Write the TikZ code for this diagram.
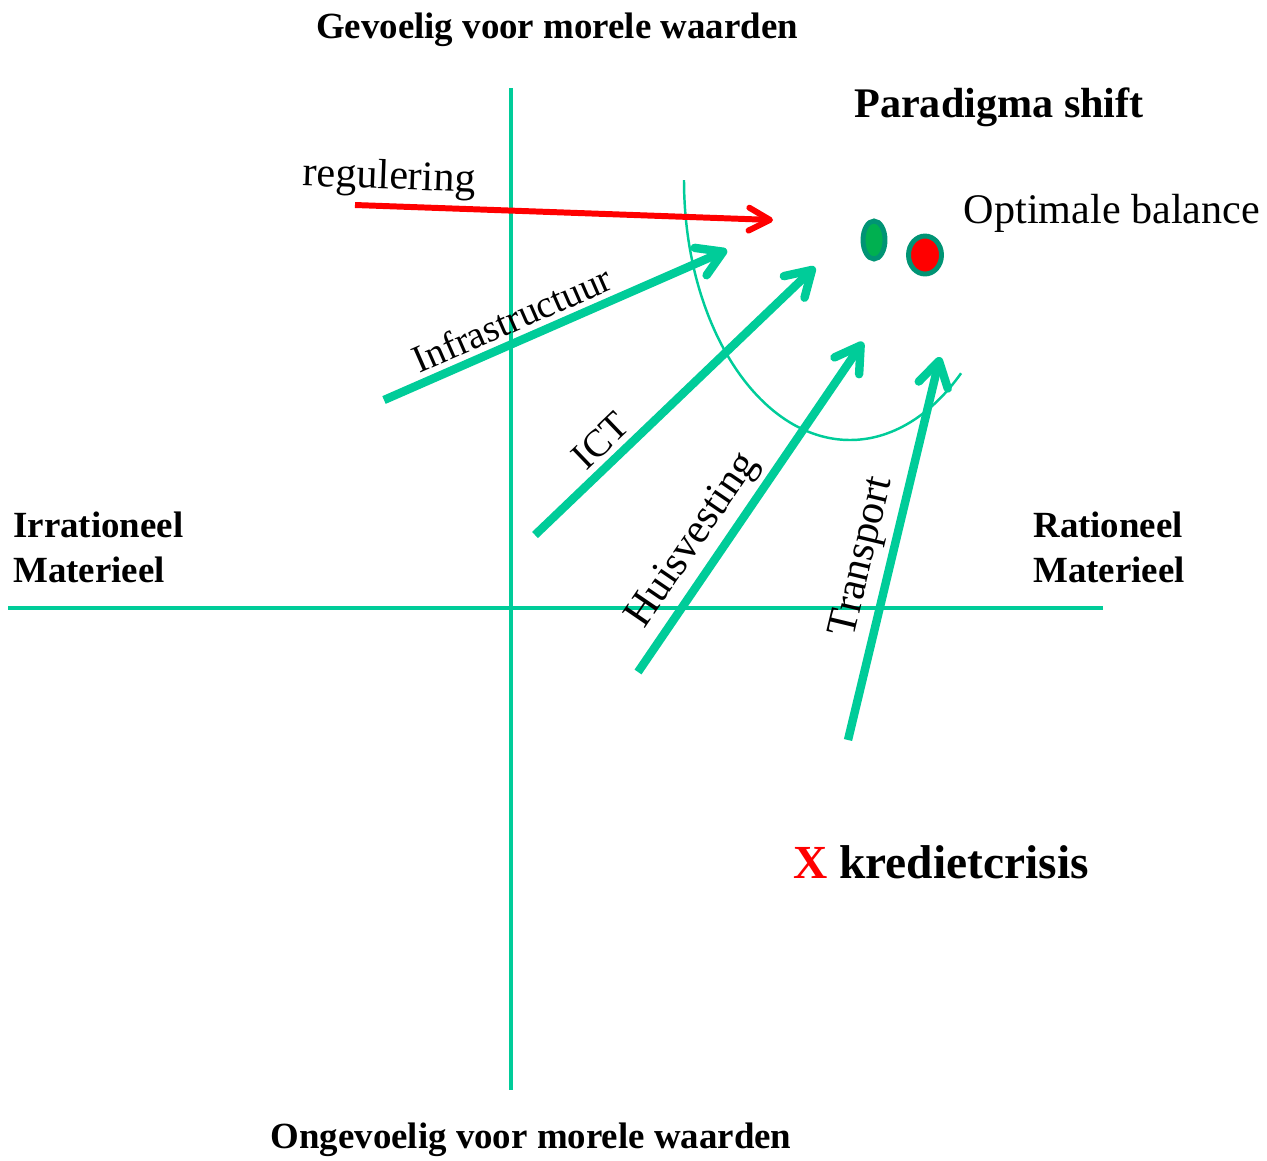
\documentclass[tikz,border=0pt]{standalone}
\usepackage{fontspec}
\setmainfont{Liberation Serif}
\usetikzlibrary{arrows.meta}

\definecolor{asgroen}{RGB}{0,204,153}
\definecolor{randgroen}{RGB}{0,148,116}
\definecolor{bolgroen}{RGB}{0,176,80}

\tikzset{
	as/.style={draw=asgroen, line width=2.8pt},
	pijl/.style={draw=asgroen, line width=4.8pt, -{Straight Barb[length=14pt,width=17pt,round]}},
	rodepijl/.style={draw=red, line width=3.4pt, -{Straight Barb[length=12pt,width=13pt,round]}},
	boog/.style={draw=asgroen, line width=1.4pt},
	kop/.style={font=\bfseries\fontsize{21}{25.5}\selectfont, align=left, inner sep=0pt},
	pijltekst/.style={font=\fontsize{22}{26}\selectfont, inner sep=3pt},
	groottekst/.style={pijltekst, font=\fontsize{24}{28}\selectfont},
	bol/.style={draw=randgroen, line width=2.8pt},
}

\begin{document}
\begin{tikzpicture}[x=0.02cm, y=-0.02cm]
	\useasboundingbox (0,0) rectangle (1267,1160);

	% assen
	\coordinate (boven) at (511,88);
	\coordinate (onder) at (511,1090);
	\coordinate (links) at (8,608);
	\coordinate (rechts) at (1103,608);
	\draw[as] (boven) -- (onder);
	\draw[as] (links) -- (rechts);

	\node[kop, anchor=center] (gevoelig) at (557,30) {Gevoelig voor morele waarden};
	\node[kop, anchor=center] (ongevoelig) at (531,1140) {Ongevoelig voor morele waarden};
	\node[kop, anchor=west] (irrationeel) at (13,547) {Irrationeel\\Materieel};
	\node[kop, anchor=west] (rationeel) at (1033,547) {Rationeel\\Materieel};

	\node[font=\bfseries\fontsize{24}{28}\selectfont] (paradigma) at (999,107) {Paradigma shift};
	\node[font=\fontsize{24}{28}\selectfont] (optimaal) at (1112,213) {Optimale balance};
	\node[font=\bfseries\fontsize{27}{32}\selectfont] (krediet) at (941,862) {\textcolor{red}{X} kredietcrisis};

	% boog en bollen
	\draw[boog] (684,180) arc[start angle=180, end angle=48, x radius=166, y radius=260];
	\draw[bol, fill=bolgroen] (874,240) ellipse [x radius=11, y radius=19];
	\draw[bol, fill=red] (925,255) ellipse [x radius=16.5, y radius=19];

	% pijlen
	\coordinate (regA) at (355,205);
	\coordinate (regB) at (773,220);
	\coordinate (infraA) at (384,400);
	\coordinate (infraB) at (727,250);
	\coordinate (ictA) at (535,535);
	\coordinate (ictB) at (815,267);
	\coordinate (huisA) at (638,672);
	\coordinate (huisB) at (863,342);
	\coordinate (transA) at (848,740);
	\coordinate (transB) at (940,357);

	\draw[rodepijl] (regA) -- node[groottekst, pos=0.08, above, sloped] (regtekst) {regulering} (regB);
	\draw[pijl] (infraA) -- node[pijltekst, pos=0.4, above, sloped] (infratekst) {Infrastructuur} (infraB);
	\draw[pijl] (ictA) -- node[pijltekst, pos=0.29, above, sloped] (icttekst) {ICT} (ictB);
	\draw[pijl] (huisA) -- node[groottekst, pos=0.35, above, sloped] (huistekst) {Huisvesting} (huisB);
	\draw[pijl] (transA) -- node[groottekst, pos=0.46, above, sloped] (transtekst) {Transport} (transB);
\end{tikzpicture}
\end{document}
